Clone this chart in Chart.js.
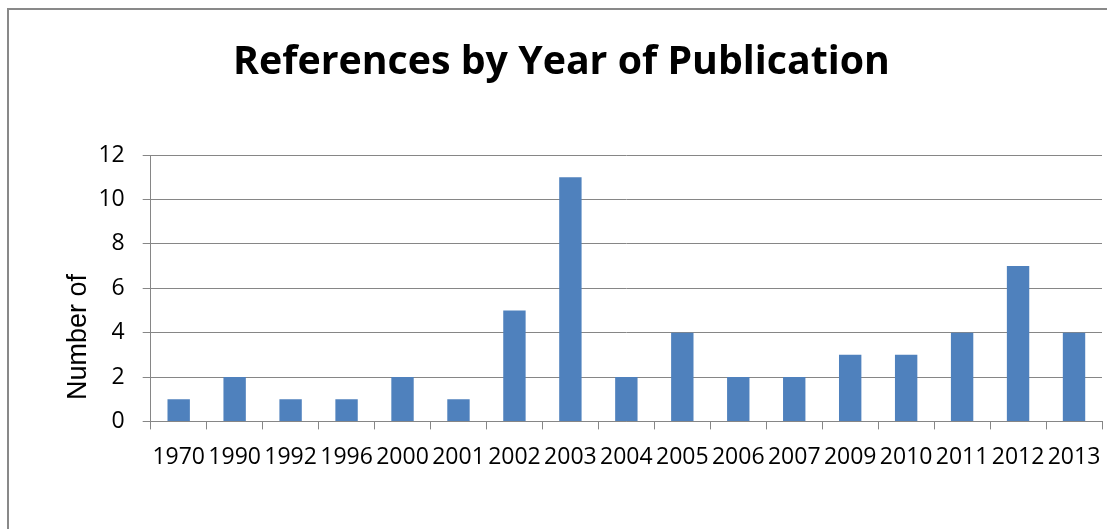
<!DOCTYPE html>
<html>
<head>
<meta charset="utf-8">
<script src="https://cdn.jsdelivr.net/npm/chart.js@4"></script>
<style>
  html, body { margin: 0; padding: 0; background: #ffffff; overflow: hidden; }
  #frame {
    position: absolute; left: 7px; top: 8px;
    width: 1200px; height: 600px;
    border-left: 2px solid #898989; border-top: 2px solid #898989;
    background: #ffffff;
  }
  #chart { display: block; }
</style>
</head>
<body>
<div id="frame"><canvas id="chart" width="1107" height="520"></canvas></div>
<script>
// Publication years and how many references fall in each
const years = ['1970', '1990', '1992', '1996', '2000', '2001', '2002', '2003', '2004',
               '2005', '2006', '2007', '2009', '2010', '2011', '2012', '2013'];
const counts = [1, 2, 1, 1, 2, 1, 5, 11, 2, 4, 2, 2, 3, 3, 4, 7, 4];
const yTicks = [0, 2, 4, 6, 8, 10, 12];

const axisGray = '#868686';
const barBlue = '#4F81BD';

new Chart(document.getElementById('chart'), {
  type: 'bar',
  data: {
    labels: years,
    datasets: [{
      data: counts,
      backgroundColor: barBlue,
      borderWidth: 0,
      barPercentage: 0.4,
      categoryPercentage: 1.0
    }]
  },
  options: {
    responsive: false,
    animation: false,
    layout: { padding: { left: 12, right: 14, top: 0, bottom: 45 } },
    plugins: {
      legend: { display: false },
      tooltip: { enabled: false },
      title: {
        display: true,
        text: 'References by Year of Publication',
        color: '#000000',
        font: { family: 'Open Sans', size: 39.3, weight: 'bold', lineHeight: 1.2 },
        padding: { top: 29, bottom: 69 }
      }
    },
    scales: {
      x: {
        offset: true,
        grid: {
          offset: true,
          drawOnChartArea: false,
          drawTicks: true,
          tickLength: 8,
          color: axisGray,
          lineWidth: 1
        },
        border: { display: true, color: axisGray, width: 1 },
        ticks: {
          color: '#000000',
          font: { family: 'Open Sans', size: 23 },
          padding: 14,
          maxRotation: 0,
          autoSkip: false
        }
      },
      y: {
        min: yTicks[0],
        max: yTicks[yTicks.length - 1],
        afterBuildTicks: (scale) => { scale.ticks = yTicks.map(v => ({ value: v })); },
        grid: {
          drawTicks: true,
          tickLength: 8,
          color: axisGray,
          lineWidth: 1
        },
        border: { display: true, color: axisGray, width: 1 },
        ticks: {
          color: '#000000',
          font: { family: 'Open Sans', size: 23 },
          padding: 18
        },
        title: {
          display: true,
          text: 'Number of             ',
          color: '#000000',
          font: { family: 'Liberation Sans', size: 27, lineHeight: 1.2 },
          padding: { top: 41, bottom: -14 }
        }
      }
    }
  }
});
</script>
</body>
</html>
